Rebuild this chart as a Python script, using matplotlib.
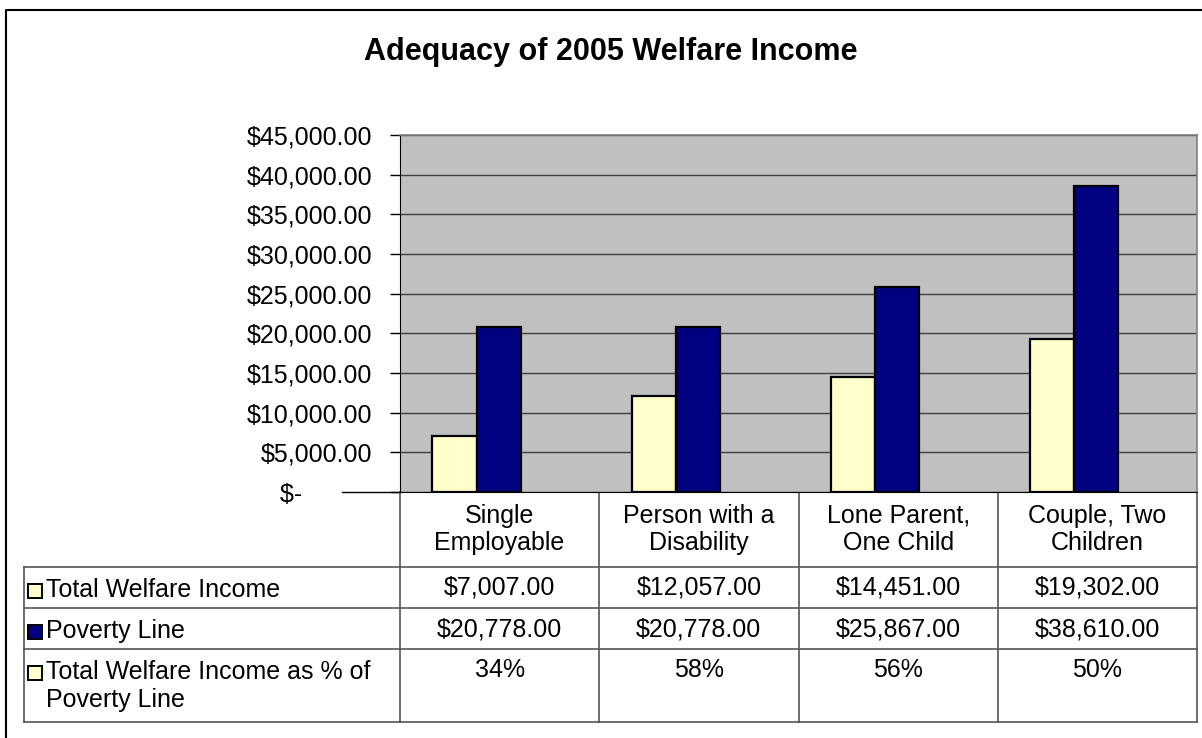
import numpy as np
import matplotlib

matplotlib.use("Agg")
import matplotlib.pyplot as plt

plt.rcParams["font.family"] = ["Liberation Sans", "DejaVu Sans"]

categories = ["Single\nEmployable", "Person with a\nDisability",
              "Lone Parent,\nOne Child", "Couple, Two\nChildren"]
welfare_income = [7007, 12057, 14451, 19302]
poverty_line = [20778, 20778, 25867, 38610]
pct_of_poverty = ["34%", "58%", "56%", "50%"]
row_labels = ["Total Welfare Income", "Poverty Line",
              "Total Welfare Income as % of\nPoverty Line"]
y_ticks = list(range(0, 45001, 5000))

YELLOW = "#FFFFCC"
NAVY = "#000080"
W, H = 1202, 738
FS = 18


def money(v):
    return f"${v:,.2f}"


fig = plt.figure(figsize=(W / 100, H / 100), dpi=100)

# pixel-space layer for frame + data table
bg = fig.add_axes([0, 0, 1, 1], zorder=0)
bg.set_xlim(0, W)
bg.set_ylim(H, 0)
bg.axis("off")
bg.plot([6, 6, W], [H, 10, 10], color="black", lw=1.5)

# plot area in pixels
L, R, T, B = 400, 1197, 135, 492
ax = fig.add_axes([L / W, 1 - B / H, (R - L) / W, (B - T) / H], zorder=2)
ax.set_facecolor("#C0C0C0")

x = np.arange(len(categories))
ax.bar(x + 0.163, welfare_income, width=0.221, align="edge",
       color=YELLOW, edgecolor="black", lw=1.6, zorder=3)
ax.bar(x + 0.384, poverty_line, width=0.221, align="edge",
       color=NAVY, edgecolor="black", lw=1.6, zorder=3)
ax.set_xlim(0, len(categories))
ax.set_ylim(0, 45000)
ax.set_xticks([])
ax.set_yticks(y_ticks)
ax.set_yticklabels([money(v) if v else "$-" + " " * 10 for v in y_ticks],
                   fontsize=FS)
ax.tick_params(axis="y", length=7, width=1, pad=13, direction="out")
ax.yaxis.grid(True, color="#404040", lw=1)
ax.set_axisbelow(True)
for s in ("top", "right"):
    ax.spines[s].set_color("#808080")
    ax.spines[s].set_linewidth(1.2)
ax.spines["left"].set_color("black")
ax.spines["bottom"].set_color("black")

fig.text(611, H - 52, "Adequacy of 2005 Welfare Income",
         transform=None, ha="center", va="center",
         fontsize=22, fontweight="bold")

# data table
col_edges = np.linspace(L, R, len(categories) + 1)
row_edges = [B, 567, 608, 649, 722]
tl = "#555555"
bg.plot([342, L], [B, B], color="black", lw=1)
for xe in col_edges:
    bg.plot([xe, xe], [B, row_edges[-1]], color=tl, lw=1.2)
bg.plot([24, 24], [row_edges[1], row_edges[-1]], color=tl, lw=1.2)
for ye in row_edges[1:]:
    bg.plot([24, R], [ye, ye], color=tl, lw=1.2)

centers = (col_edges[:-1] + col_edges[1:]) / 2
for cx, name in zip(centers, categories):
    bg.text(cx, B + 12, name, ha="center", va="top", fontsize=FS,
            linespacing=1.15)

rows = [[money(v) for v in welfare_income],
        [money(v) for v in poverty_line],
        pct_of_poverty]
key_colors = [YELLOW, NAVY, YELLOW]
for r, (label, vals) in enumerate(zip(row_labels, rows)):
    top = row_edges[r + 1]
    bg.add_patch(plt.Rectangle((28, top + 17), 14, 14, facecolor=key_colors[r],
                               edgecolor="black", lw=1.4))
    bg.text(46, top + 11, label, ha="left", va="top", fontsize=FS,
            linespacing=1.2)
    for cx, v in zip(centers, vals):
        bg.text(cx, top + 9, v, ha="center", va="top", fontsize=FS)

fig.savefig("out.png", dpi=100)
